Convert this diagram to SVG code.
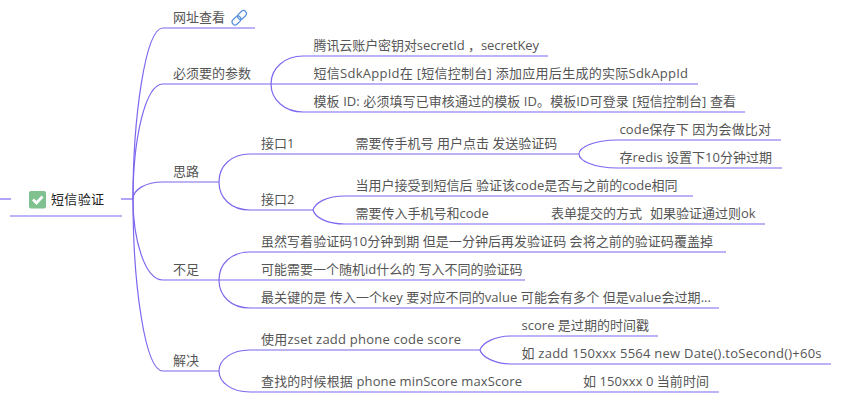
<svg xmlns="http://www.w3.org/2000/svg" width="862" height="409" viewBox="0 0 862 409">
<style>
text{font-family:"Open Sans","Noto Sans CJK SC","Noto Sans",sans-serif;font-size:13px;fill:#555}
.root{fill:#222}
.c{fill:none;stroke:#7b68ee;stroke-width:1.2}
.l{fill:none;stroke:#5b93dd;stroke-width:1.2}
</style>
<rect width="862" height="409" fill="#fff"/>
<g id="connectors" class="c">
<path d="M0 199H11"/>
<path d="M10 216H122"/>
<path d="M121 199H133"/>
<path d="M133 199C133 120 145 28 163 28H255"/>
<path d="M133 199C133 140 145 84 163 84H271"/>
<path d="M133 199C133 190 145 182 163 182H219"/>
<path d="M133 199C133 240 145 280 163 280H219"/>
<path d="M133 199C133 285 145 371 163 371H219"/>
<path d="M271 84C271 68 285 56 303 56H548"/>
<path d="M271 84H698"/>
<path d="M271 84C271 100 285 112 303 112H745"/>
<path d="M219 182C219 166 231 154 250 154H579"/>
<path d="M219 182C219 198 231 210 250 210H313"/>
<path d="M579 154C579 148 592 140 618 140H781"/>
<path d="M579 154C579 160 592 168 618 168H782"/>
<path d="M313 210C315 203 326 196 345 196H693"/>
<path d="M313 210C315 217 326 224 345 224H765"/>
<path d="M219 280C219 264 231 252 250 252H726"/>
<path d="M219 280H525"/>
<path d="M219 280C219 296 231 308 250 308H719"/>
<path d="M219 371C219 360 231 350 250 350H480"/>
<path d="M219 371C219 382 231 392 250 392H719"/>
<path d="M480 350C482 343 495 336 511 336H658"/>
<path d="M480 350C482 357 495 364 511 364H831"/>
</g>
<g id="root"><rect x="29" y="191" width="17" height="17.500" rx="2" fill="#7fc28f"/><path d="M33 199.500L36.500 203L42.500 196.500" fill="none" stroke="#fff" stroke-width="2.600"/><text class="root" x="51" y="204" textLength="53">短信验证</text></g>
<g id="n1"><text x="173" y="22">网址查看</text><rect class="l" x="237" y="12" width="10" height="6" rx="3" transform="rotate(-45 242 15)"/><rect class="l" x="231.500" y="17.500" width="10" height="6" rx="3" transform="rotate(-45 236.500 20.500)"/></g>
<g id="n2"><text x="173" y="78">必须要的参数</text></g>
<g id="n21"><text x="313.500" y="50" textLength="225.500">腾讯云账户密钥对secretId ，secretKey</text></g>
<g id="n22"><text x="313.500" y="78" textLength="374.500">短信SdkAppId在 [短信控制台] 添加应用后生成的实际SdkAppId</text></g>
<g id="n23"><text x="313.500" y="106" textLength="422.500">模板 ID: 必须填写已审核通过的模板 ID。模板ID可登录 [短信控制台] 查看</text></g>
<g id="n3"><text x="173" y="176">思路</text></g>
<g id="n31"><text x="261" y="148">接口1</text></g>
<g id="n311"><text x="355.500" y="148">需要传手机号 用户点击 发送验证码</text></g>
<g id="n3111"><text x="619.500" y="134" textLength="151.500">code保存下 因为会做比对</text></g>
<g id="n3112"><text x="619.500" y="162" textLength="152.500">存redis 设置下10分钟过期</text></g>
<g id="n32"><text x="261" y="204">接口2</text></g>
<g id="n321"><text x="355.500" y="190">当用户接受到短信后 验证该code是否与之前的code相同</text></g>
<g id="n322"><text x="355.500" y="218">需要传入手机号和code<tspan x="551">表单提交的方式</tspan><tspan x="650">如果验证通过则ok</tspan></text></g>
<g id="n4"><text x="173" y="274">不足</text></g>
<g id="n41"><text x="261" y="246" textLength="452">虽然写着验证码10分钟到期 但是一分钟后再发验证码 会将之前的验证码覆盖掉</text></g>
<g id="n42"><text x="261" y="274">可能需要一个随机id什么的 写入不同的验证码</text></g>
<g id="n43"><text x="261" y="302" textLength="450">最关键的是 传入一个key 要对应不同的value 可能会有多个 但是value会过期...</text></g>
<g id="n5"><text x="173" y="365">解决</text></g>
<g id="n51"><text x="261" y="344" textLength="200">使用zset zadd phone code score</text></g>
<g id="n511"><text x="521.500" y="330" textLength="127.500">score 是过期的时间戳</text></g>
<g id="n512"><text x="521.500" y="358" textLength="300">如 zadd 150xxx 5564 new Date().toSecond()+60s</text></g>
<g id="n52"><text x="261" y="386" textLength="261">查找的时候根据 phone minScore maxScore</text><text x="583" y="386" textLength="126">如 150xxx 0 当前时间</text></g>
</svg>
